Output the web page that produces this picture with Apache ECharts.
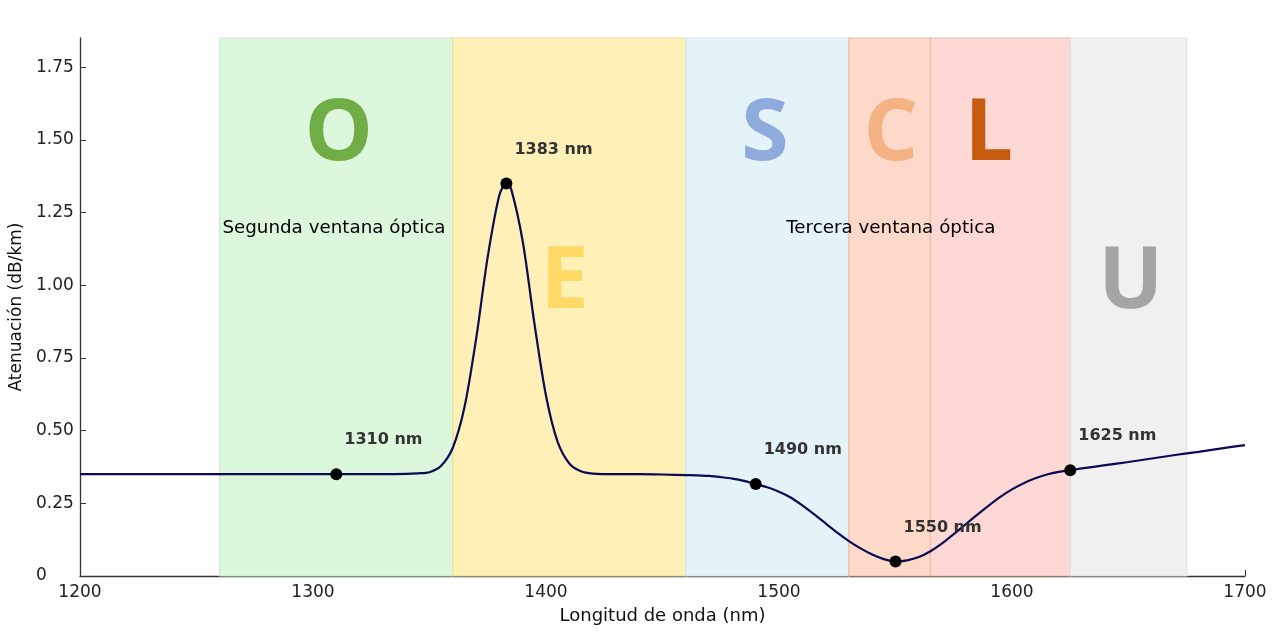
<!DOCTYPE html>
<html><head><meta charset="utf-8">
<script src="https://cdn.jsdelivr.net/npm/echarts@6/dist/echarts.min.js"></script>
<style>html,body{margin:0;padding:0;background:#fff}#c{width:1280px;height:634px}</style>
</head><body><div id="c"></div>
<script>
// Attenuation curve
const wavelengths = [1200,1250,1300,1310,1330,1340,1345,1350,1355,1360,1365,1370,1375,1380,1383,1385,1390,1395,1400,1405,1410,1415,1420,1430,1440,1450,1460,1465,1470,1475,1480,1485,1490,1495,1500,1505,1510,1515,1520,1525,1530,1535,1540,1545,1550,1555,1560,1565,1570,1575,1580,1585,1590,1595,1600,1605,1610,1615,1620,1625,1630,1640,1650,1660,1670,1680,1690,1700];
const attenuation = [0.35,0.35,0.35,0.35,0.35,0.351,0.353,0.357,0.379,0.441,0.58,0.815,1.098,1.31,1.35,1.332,1.151,0.87,0.62,0.461,0.387,0.36,0.352,0.35,0.35,0.349,0.347,0.346,0.344,0.34,0.335,0.327,0.316,0.305,0.29,0.27,0.243,0.213,0.181,0.149,0.12,0.095,0.074,0.058,0.05,0.054,0.065,0.085,0.112,0.144,0.177,0.21,0.242,0.272,0.298,0.319,0.336,0.349,0.358,0.364,0.37,0.381,0.392,0.404,0.416,0.427,0.439,0.45];
// Highlighted wavelengths
const markerNm = [1310,1383,1490,1550,1625];
const markerVal = [0.35,1.35,0.316,0.05,0.364];
const markerLabels = ['1310 nm','1383 nm','1490 nm','1550 nm','1625 nm'];
// Bands
const bandNames = ['O','E','S','C','L','U'];
const bandStart = [1260,1360,1460,1530,1565,1625];
const bandEnd = [1360,1460,1530,1565,1625,1675];
// Ticks
const yTicks = [0,0.25,0.5,0.75,1.0,1.25,1.5,1.75];
const xTicks = [1200,1300,1400,1500,1600,1700];
// Annotations
const letterPos = [[1311,1.515],[1408,1.005],[1494,1.515],[1548,1.515],[1590,1.515],[1651,1.005]];
const windowTexts = ['Segunda ventana óptica','Tercera ventana óptica'];
const windowPos = [[1309,1.195],[1548,1.195]];

const bandFill = ['#dcf7dc','#fef0b6','#e4f3f8','#fdd9c9','#fdd8d4','#f0f0f0'];
const bandEdge = ['#c8ebc0','#ece09a','#d4e8ee','#f0b8a4','#efbab2','#e2e2e2'];
const letterColor = ['#70ad47','#ffd966','#8faadc','#f4b183','#c55a11','#a5a5a5'];

const chart = echarts.init(document.getElementById('c'));
const font = 'DejaVu Sans';
chart.setOption({
  animation:false,
  grid:{left:80,right:35,top:38,bottom:58,containLabel:false,outerBoundsMode:'none'},
  xAxis:{type:'value',min:1200,max:1700,interval:100,
    name:'Longitud de onda (nm)',nameLocation:'middle',nameGap:31,
    nameTextStyle:{fontFamily:font,fontSize:18,color:'#111'},
    axisLine:{lineStyle:{color:'#333',width:1.3}},
    axisTick:{inside:true,length:6,lineStyle:{color:'#333'}},
    axisLabel:{fontFamily:font,fontSize:17,color:'#222',margin:8,formatter:v=>String(v)},
    splitLine:{show:false}},
  yAxis:{type:'value',min:0,max:1.85,
    name:'Atenuación (dB/km)',nameLocation:'middle',nameGap:54,
    nameTextStyle:{fontFamily:font,fontSize:17,color:'#111'},
    axisLine:{show:true,lineStyle:{color:'#333',width:1.3}},
    axisTick:{show:true,inside:true,length:6,lineStyle:{color:'#333'},customValues:yTicks},
    axisLabel:{fontFamily:font,fontSize:17,color:'#222',margin:7,customValues:yTicks,
      formatter:v=>'{a|'+(v===0?'0':v.toFixed(2))+'}',
      rich:{a:{fontFamily:font,fontSize:17,color:'#222',width:37,align:'left'}}},
    splitLine:{show:false}},
  series:[
    {type:'line',data:wavelengths.map((w,i)=>[w,attenuation[i]]),smooth:0.3,showSymbol:false,
      lineStyle:{color:'#0b0b55',width:2.2},z:3,
      markArea:{silent:true,data:bandNames.map((n,i)=>[
        {xAxis:bandStart[i],itemStyle:{color:bandFill[i],borderColor:bandEdge[i],borderWidth:1.2}},
        {xAxis:bandEnd[i]}])}},
    {type:'scatter',data:markerNm.map((w,i)=>({value:[w,markerVal[i]],name:markerLabels[i]})),
      symbolSize:12,itemStyle:{color:'#000',opacity:1},z:5,
      label:{show:true,position:[14,-28],align:'left',verticalAlign:'middle',
        formatter:p=>p.name,fontFamily:font,fontWeight:'bold',fontSize:16,color:'#333'}},
    {type:'scatter',data:bandNames.map((n,i)=>({value:letterPos[i],name:n,
        label:{color:letterColor[i]}})),
      symbolSize:0,z:4,silent:true,itemStyle:{opacity:1},
      label:{show:true,position:'inside',formatter:p=>p.name,fontFamily:'Open Sans',fontWeight:'bold',fontSize:86}},
    {type:'scatter',data:windowTexts.map((t,i)=>({value:windowPos[i],name:t})),
      symbolSize:0,z:4,silent:true,itemStyle:{opacity:1},
      label:{show:true,position:'inside',formatter:p=>p.name,fontFamily:font,fontSize:18.3,color:'#000'}}
  ]
});
</script></body></html>
